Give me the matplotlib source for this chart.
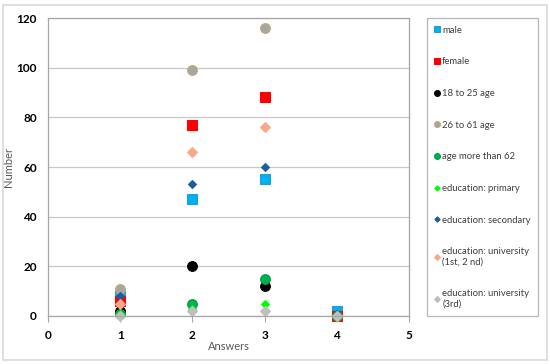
import matplotlib.pyplot as plt
from matplotlib.patches import Rectangle

plt.rcParams['font.family'] = ['Lato', 'DejaVu Sans']

answers = [1, 2, 3, 4]
male = [8, 47, 55, 2]
female = [6, 77, 88, 0]
age_18_25 = [2, 20, 12, 0]
age_26_61 = [11, 99, 116, 0]
age_62 = [1, 5, 15, 0]
edu_primary = [1, 3, 5, 0]
edu_secondary = [8, 53, 60, 1]
edu_uni_12 = [5, 66, 76, 0]
edu_uni_3 = [0, 2, 2, 0]

series = [
    ('male', male, 's', '#00B0F0', '#1F9FD8', 6.5),
    ('female', female, 's', '#FF0000', '#FF0000', 6.5),
    ('18 to 25 age', age_18_25, 'o', '#000000', '#000000', 7),
    ('26 to 61 age', age_26_61, 'o', '#A6A6A6', '#C4A86A', 7),
    ('age more than 62', age_62, 'o', '#00B050', '#00A04A', 7),
    ('education: primary', edu_primary, 'D', '#00FF00', '#00FF00', 4.5),
    ('education: secondary', edu_secondary, 'D', '#1F5C9E', '#1F5C9E', 4.5),
    ('education: university\n(1st, 2 nd)', edu_uni_12, 'D', '#F9A88A', '#F9A88A', 5),
    ('education: university\n(3rd)', edu_uni_3, 'D', '#BFBFBF', '#BFBFBF', 5),
]

fig = plt.figure(figsize=(5.5, 3.64), dpi=100)
fig.patches.append(Rectangle((0.006, 0.01), 0.988, 0.975, transform=fig.transFigure,
                             fill=False, edgecolor='#D9D9D9', linewidth=1.2))
ax = fig.add_axes([0.0873, 0.1319, 0.6563, 0.8186])

for label, vals, m, fc, ec, ms in series:
    ax.plot(answers, vals, linestyle='none', marker=m, markersize=ms,
            markerfacecolor=fc, markeredgecolor=ec, markeredgewidth=0.8,
            label=label, clip_on=False)

ax.set_xlim(0, 5)
ax.set_ylim(0, 120)
ax.set_xticks(range(0, 6))
ax.set_yticks(range(0, 121, 20))
ax.grid(axis='y', color='#C8C8C8', linewidth=0.9)
ax.set_axisbelow(True)
for s in ax.spines.values():
    s.set_color('#A6A6A6')
    s.set_linewidth(0.9)
ax.tick_params(axis='x', length=4, color='#A6A6A6', labelsize=8.5, pad=6)
ax.tick_params(axis='y', length=0, labelsize=8.5, pad=8)
for t in ax.get_xticklabels() + ax.get_yticklabels():
    t.set_fontweight('bold')
ax.set_xlabel('Answers', fontsize=8, color='#595959', labelpad=0)
ax.set_ylabel('Number', fontsize=8, color='#595959', labelpad=2)

leg = ax.legend(loc='upper left', bbox_to_anchor=(1.05, 1.0), fontsize=6.8,
                frameon=True, fancybox=False, edgecolor='#A6A6A6',
                labelspacing=2.4, handlelength=0.5, handletextpad=0.3,
                borderpad=0.8, markerscale=0.6, borderaxespad=0)
leg.get_frame().set_linewidth(0.9)
for t in leg.get_texts():
    t.set_color('#404040')

fig.savefig('out.png', dpi=100)
